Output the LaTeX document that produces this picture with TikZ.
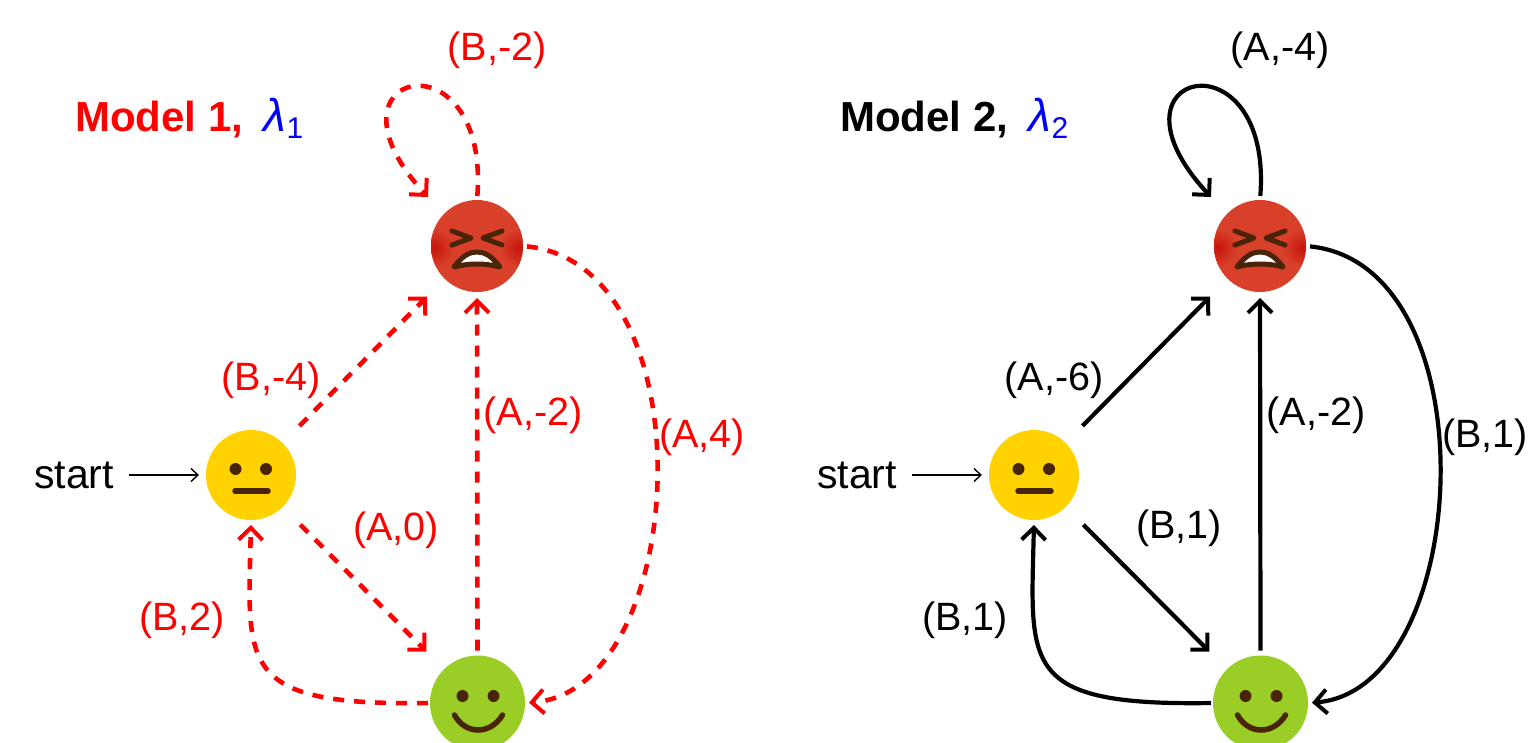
\documentclass[tikz,border=0pt]{standalone}
\usepackage{fontspec}
\setmainfont{Liberation Sans}
\usetikzlibrary{arrows.meta}
\definecolor{facedark}{HTML}{4A2408}
\definecolor{faceyellow}{HTML}{FFD200}
\definecolor{facegreen}{HTML}{9ACD25}
\definecolor{facered}{HTML}{D8402A}
\definecolor{facedeep}{HTML}{C8140C}
\tikzset{
  face/.style={circle,inner sep=0pt,outer sep=0pt,draw=none},
  lab/.style={inner sep=0pt,font=\fontsize{39.5}{42}\selectfont},
  startlab/.style={inner sep=0pt,font=\fontsize{41}{44}\selectfont},
  title/.style={inner sep=0pt,anchor=west,font=\fontsize{42}{46}\selectfont},
  tip/.style={-{Straight Barb[length=12pt,width=24pt,line width=4pt]}},
  redge/.style={draw=red,line width=4.6pt,dash pattern=on 11pt off 10pt,tip},
  bedge/.style={draw=black,line width=4.2pt,tip},
  startedge/.style={draw=black,line width=1.4pt,-{Straight Barb[length=7pt,width=13pt,line width=1.4pt]}},
}
\newcommand{\FaceNeutral}[3]{%
  \node[face,fill=faceyellow,minimum size=90pt] (#1) at (#2,#3) {};
  \begin{scope}[shift={(#2,#3)}]
    \fill[facedark] (-15.5,-6) circle (6pt) (15,-6) circle (6pt);
    \draw[facedark,line width=5.5pt,line cap=round] (-16,16) -- (17,16);
  \end{scope}}
\newcommand{\FaceHappy}[3]{%
  \node[face,fill=facegreen,minimum size=95pt] (#1) at (#2,#3) {};
  \begin{scope}[shift={(#2,#3)}]
    \fill[facedark] (-15,-7) circle (6pt) (16,-7) circle (6pt);
    \draw[facedark,line width=5.5pt,line cap=round] (-23,12) .. controls (-12,32) and (13,32) .. (25,12);
  \end{scope}}
\newcommand{\FaceAngry}[3]{%
  \node[face,fill=facered,minimum size=92pt] (#1) at (#2,#3) {};
  \begin{scope}[shift={(#2,#3)}]
    \clip (0,0) circle (46pt);
    \shade[inner color=facedeep,outer color=facered] (-42,2) circle (19pt);
    \shade[inner color=facedeep,outer color=facered] (42,2) circle (19pt);
    \draw[facedark,line width=5pt,line cap=round,line join=round] (-25,-15) -- (-6,-8) -- (-25,-1);
    \draw[facedark,line width=5pt,line cap=round,line join=round] (25,-15) -- (6,-8) -- (25,-1);
    \draw[facedark,fill=white,line width=5pt,line join=round] (-23,21) .. controls (-14,9) and (-7,6) .. (0,6) .. controls (7,6) and (14,9) .. (23,21) .. controls (8,17) and (-8,17) .. (-23,21) -- cycle;
  \end{scope}}
\begin{document}
\begin{tikzpicture}[x=1pt,y=-1pt]
\useasboundingbox (0,0) rectangle (1528,743);
\fill[white] (0,0) rectangle (1528,743);

% ---------- Model 1
\node[title] (t1) at (75,118) {{\color{red}\bfseries Model 1, }{\color{blue}\hspace{9pt}\fontsize{46}{46}\selectfont\itshape λ\raisebox{-7pt}{\fontsize{30}{30}\selectfont\normalfont 1}}};
\FaceNeutral{n1}{251}{475}
\FaceAngry{a1}{477}{246}
\FaceHappy{h1}{477.5}{703}
\coordinate (c1) at (428,197);
\node[startlab] (s1) at (74,475) {start};
\draw[startedge,shorten <=15pt,shorten >=7pt] (s1) -- (n1);
\draw[redge,shorten <=24pt,shorten >=25pt] (n1) -- (a1);
\draw[redge,shorten <=25pt,shorten >=25pt] (n1) -- (h1);
\draw[redge,shorten <=5pt,shorten >=6pt] (h1.north) -- (a1.south);
\draw[redge,shorten <=4pt] (a1.north) .. controls (490,30) and (310,70) .. (c1);
\draw[redge,shorten <=4pt,shorten >=4pt] (a1.east) .. controls (710,265) and (690,690) .. (h1.east);
\draw[redge,shorten <=2pt,shorten >=5pt] (h1.west) .. controls (235,706) and (248,665) .. (n1.south);
\node[lab,red] (l11) at (497,50) {(B,-2)};
\node[lab,red] (l12) at (271,380) {(B,-4)};
\node[lab,red] (l13) at (533,415) {(A,-2)};
\node[lab,red] (l14) at (702,437) {(A,4)};
\node[lab,red] (l15) at (396,530) {(A,0)};
\node[lab,red] (l16) at (182,620) {(B,2)};

% ---------- Model 2
\node[title] (t2) at (840,118) {{\bfseries Model 2, }{\color{blue}\hspace{9pt}\fontsize{46}{46}\selectfont\itshape λ\raisebox{-7pt}{\fontsize{30}{30}\selectfont\normalfont 2}}};
\FaceNeutral{n2}{1034}{475}
\FaceAngry{a2}{1260}{246}
\FaceHappy{h2}{1260.5}{703}
\coordinate (c2) at (1211,197);
\node[startlab] (s2) at (857,475) {start};
\draw[startedge,shorten <=15pt,shorten >=7pt] (s2) -- (n2);
\draw[bedge,shorten <=24pt,shorten >=25pt] (n2) -- (a2);
\draw[bedge,shorten <=25pt,shorten >=25pt] (n2) -- (h2);
\draw[bedge,shorten <=5pt,shorten >=6pt] (h2.north) -- (a2.south);
\draw[bedge,shorten <=4pt] (a2.north) .. controls (1273,30) and (1093,70) .. (c2);
\draw[bedge,shorten <=4pt,shorten >=4pt] (a2.east) .. controls (1493,265) and (1473,690) .. (h2.east);
\draw[bedge,shorten <=2pt,shorten >=5pt] (h2.west) .. controls (1018,706) and (1031,665) .. (n2.south);
\node[lab] (l21) at (1280,50) {(A,-4)};
\node[lab] (l22) at (1054,380) {(A,-6)};
\node[lab] (l23) at (1316,415) {(A,-2)};
\node[lab] (l24) at (1485,437) {(B,1)};
\node[lab] (l25) at (1179,528) {(B,1)};
\node[lab] (l26) at (965,620) {(B,1)};
\end{tikzpicture}
\end{document}
